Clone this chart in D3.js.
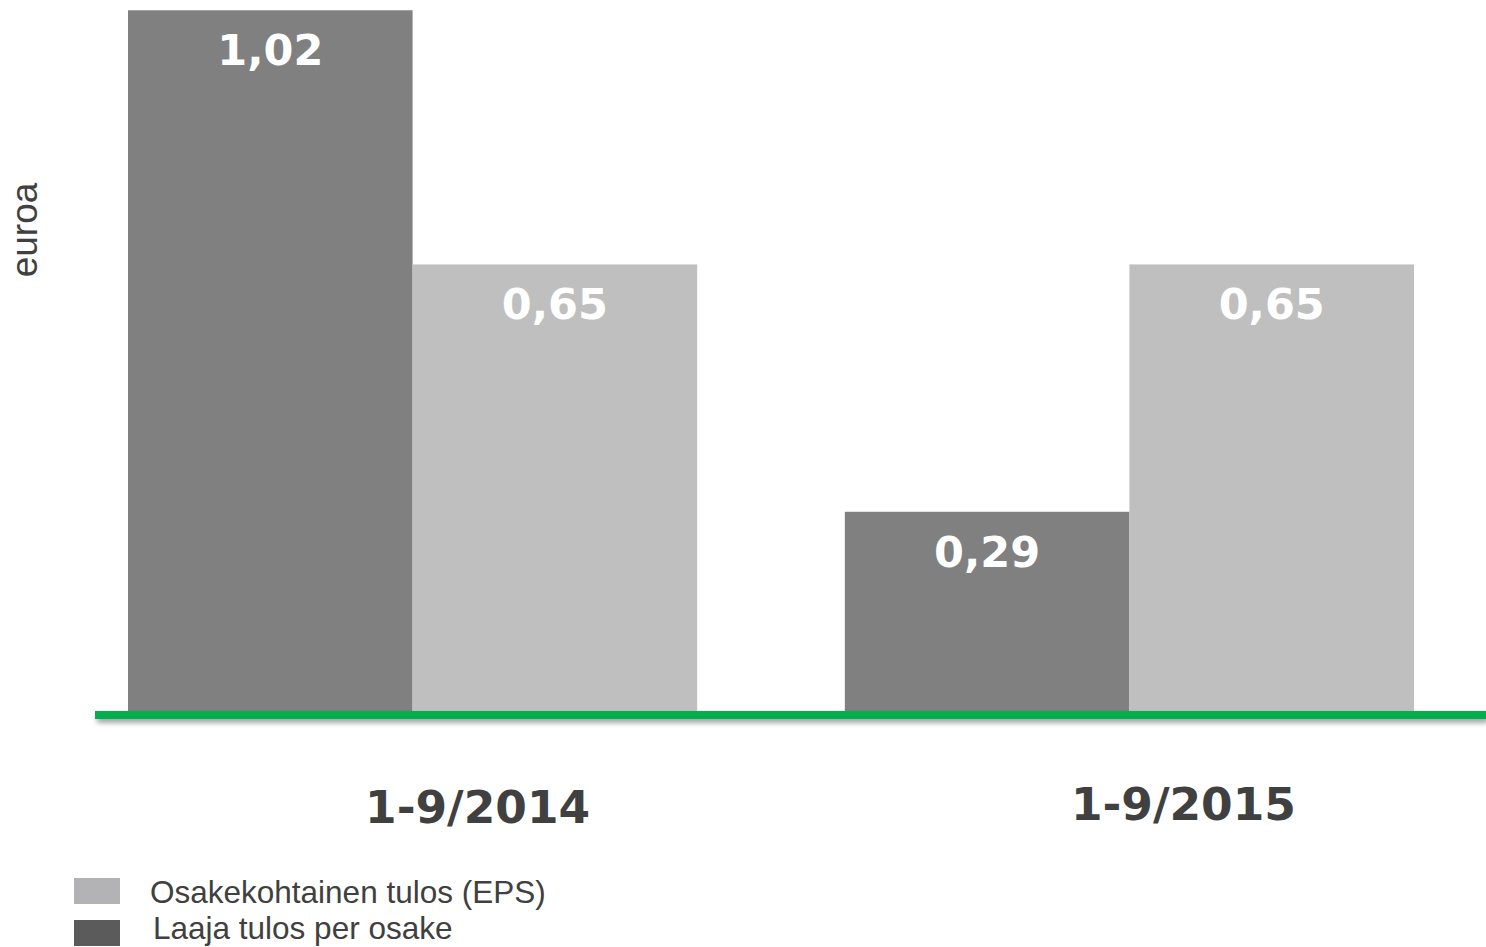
<!DOCTYPE html>
<html><head><meta charset="utf-8">
<script src="https://cdn.jsdelivr.net/npm/d3@7/dist/d3.min.js"></script>
<style>body{margin:0;background:#fff;}svg{display:block;}</style>
</head><body>
<script>
const categories = ["1-9/2014", "1-9/2015"];
const seriesNames = ["Laaja tulos per osake", "Osakekohtainen tulos (EPS)"];
const laaja = [1.02, 0.29];
const eps = [0.65, 0.65];
const legendOrder = ["Osakekohtainen tulos (EPS)", "Laaja tulos per osake"];

const W = 1486, H = 947;
const svg = d3.select("body").append("svg").attr("width", W).attr("height", H);
const defs = svg.append("defs");
const f = defs.append("filter").attr("id","sh").attr("filterUnits","userSpaceOnUse")
  .attr("x",0).attr("y",690).attr("width",W).attr("height",60);
f.append("feDropShadow").attr("dx",2).attr("dy",4).attr("stdDeviation",2.5).attr("flood-color","#000").attr("flood-opacity",0.35);

const baseY = 711;
const y = d3.scaleLinear().domain([0, 1]).range([baseY, baseY - 687]);
const x0 = d3.scaleBand().domain(categories).range([128, 1414]).paddingInner(0.206).paddingOuter(0);
const x1 = d3.scaleBand().domain(seriesNames).range([0, x0.bandwidth()]);
const colors = {"Laaja tulos per osake": "#808080", "Osakekohtainen tulos (EPS)": "#bfbfbf"};
const legendColors = {"Laaja tulos per osake": "#5b5b5b", "Osakekohtainen tulos (EPS)": "#b3b3b5"};

const data = categories.map((c, i) => ({cat: c, vals: [
  {s: seriesNames[0], v: laaja[i]}, {s: seriesNames[1], v: eps[i]}]}));

const g = svg.append("g");
const groups = g.selectAll("g.grp").data(data).join("g")
  .attr("transform", d => `translate(${x0(d.cat)},0)`);
groups.selectAll("rect").data(d => d.vals).join("rect")
  .attr("x", d => x1(d.s)).attr("width", x1.bandwidth())
  .attr("y", d => y(d.v)).attr("height", d => baseY - y(d.v))
  .attr("fill", d => colors[d.s]);
groups.selectAll("text").data(d => d.vals).join("text")
  .attr("x", d => x1(d.s) + x1.bandwidth()/2)
  .attr("y", d => y(d.v) + 55)
  .attr("text-anchor", "middle")
  .attr("font-family", "DejaVu Sans").attr("font-weight", "bold").attr("font-size", 43)
  .attr("fill", "#fff")
  .text(d => d3.format(".2f")(d.v).replace(".", ","));

// green baseline
svg.append("rect").attr("x", 95).attr("width", W - 95).attr("y", baseY).attr("height", 8)
  .attr("fill", "#00b050").attr("filter", "url(#sh)");

// category labels
const catOffsets = [{dx: 65, y: 823}, {dx: 54, y: 820}];
svg.selectAll("text.cat").data(categories).join("text").attr("class","cat")
  .attr("x", (d, i) => x0(d) + x0.bandwidth()/2 + catOffsets[i].dx)
  .attr("y", (d, i) => catOffsets[i].y)
  .attr("text-anchor", "middle")
  .attr("font-family", "DejaVu Sans").attr("font-weight", "bold").attr("font-size", 44)
  .attr("textLength", 225).attr("lengthAdjust", "spacingAndGlyphs")
  .attr("fill", "#404040").text(d => d);

// y label
svg.append("text").attr("transform", "translate(37,230) rotate(-90)")
  .attr("text-anchor", "middle").attr("font-family", "Liberation Sans").attr("font-size", 37)
  .attr("fill", "#404040").text("euroa");

// legend
const leg = svg.selectAll("g.leg").data(legendOrder).join("g").attr("class","leg")
  .attr("transform", (d, i) => `translate(74,${878 + i * 42})`);
leg.append("rect").attr("width", 46).attr("height", 26).attr("fill", d => legendColors[d]);
leg.append("text").attr("x", (d, i) => i === 0 ? 76 : 79).attr("y", (d, i) => i === 0 ? 25 : 19)
  .attr("font-family", "Liberation Sans").attr("font-size", 31.5).attr("fill", "#404040")
  .text(d => d);
</script>
</body></html>
